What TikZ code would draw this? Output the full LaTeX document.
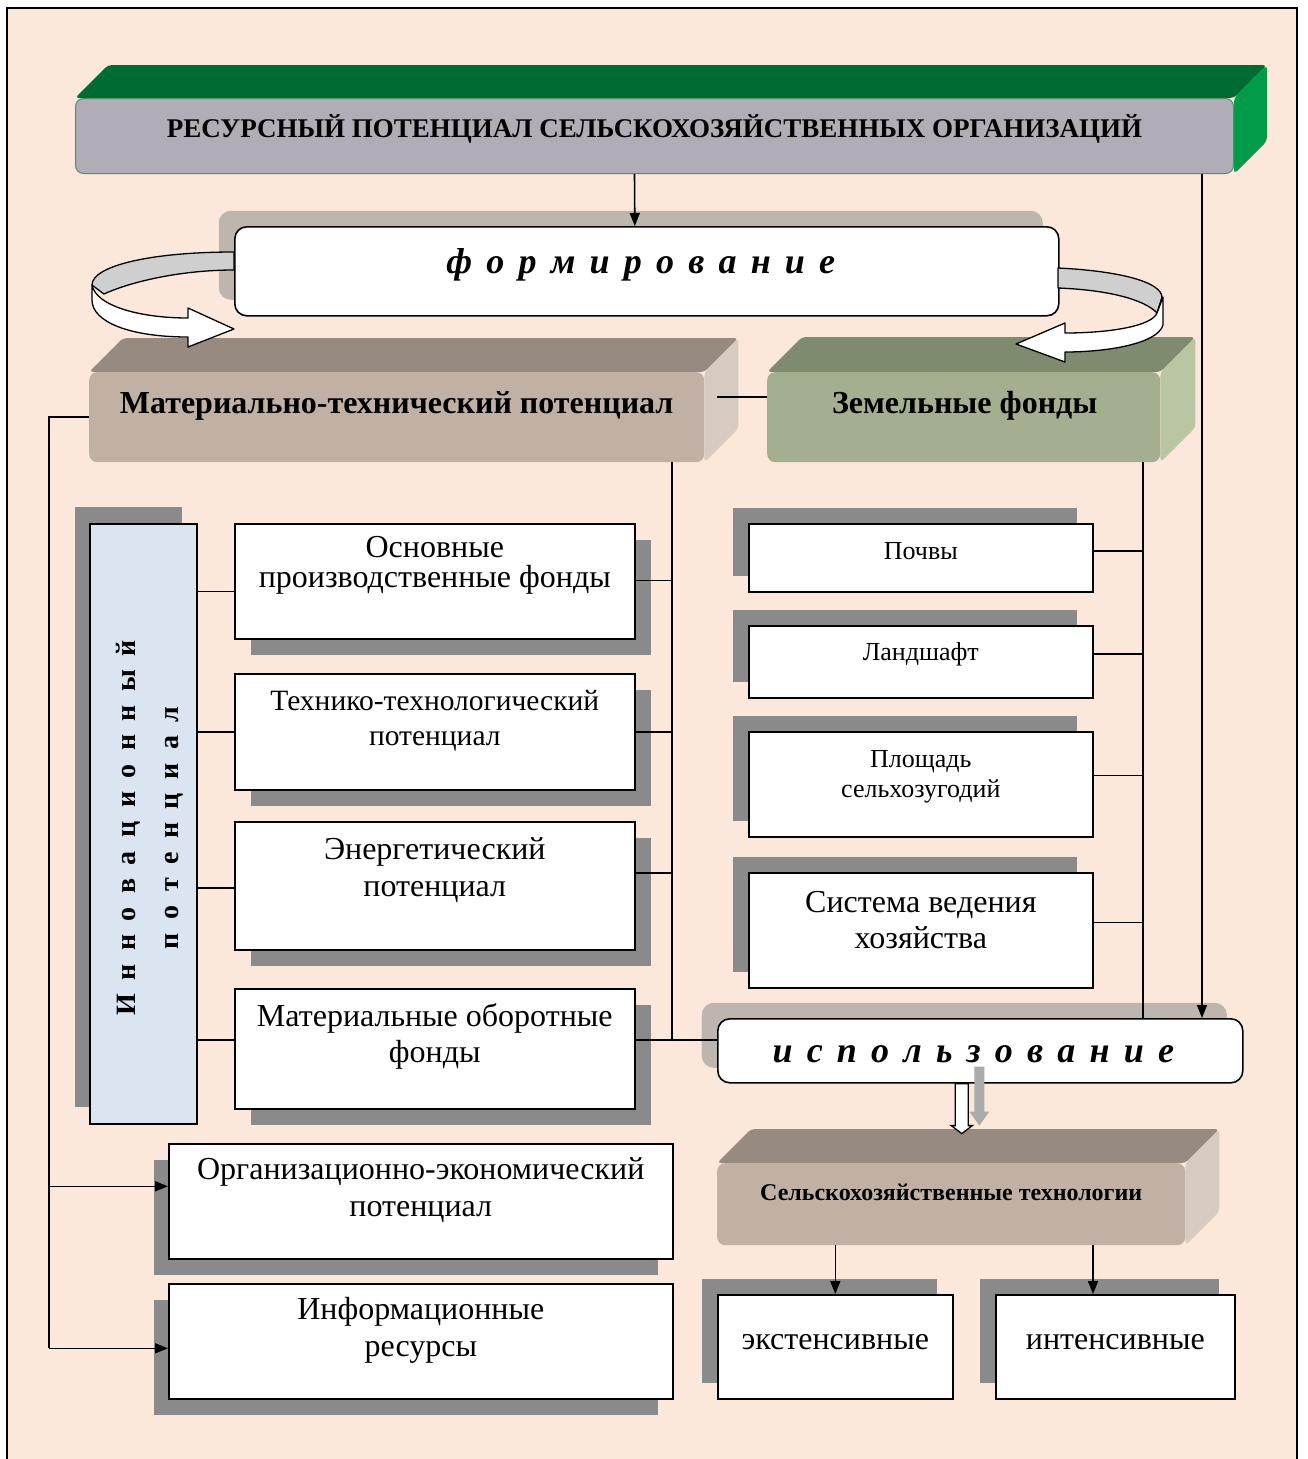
\documentclass[tikz,border=0pt]{standalone}
\usepackage{fontspec}
\setmainfont{Liberation Serif}
\usetikzlibrary{arrows.meta,shadows}

\definecolor{peach}{HTML}{FCE8DA}
\definecolor{bannerfront}{HTML}{B1ADB7}
\definecolor{bannertop}{HTML}{006B33}
\definecolor{bannerside}{HTML}{019B4A}
\definecolor{bannerline}{HTML}{4A9465}
\definecolor{mtfront}{HTML}{C1B1A5}
\definecolor{mttop}{HTML}{978A80}
\definecolor{mtside}{HTML}{D6CAC1}
\definecolor{zffront}{HTML}{A3AF8F}
\definecolor{zftop}{HTML}{7F8B6F}
\definecolor{zfside}{HTML}{BAC5A3}
\definecolor{innovblue}{HTML}{DBE5F1}
\definecolor{shadedark}{HTML}{8A8A8A}
\definecolor{shadelight}{HTML}{BDB5AE}
\definecolor{ribbon}{HTML}{CFCFCF}
\definecolor{ghostarrow}{HTML}{ABABAB}

\pgfdeclarelayer{backdrop}
\pgfdeclarelayer{faces}
\pgfsetlayers{backdrop,faces,main}

% letter-spaced words
\newlength\lgap
\newcommand\ltrsp{\hspace{\lgap}}

% top-aligned text block of a framed box: width, height, font size, line skip, first baseline, text
\newcommand\bx[6]{\parbox[c][#2pt][t]{#1pt}{\centering\fontsize{#3pt}{#4pt}\selectfont\rule{0pt}{#5pt}#6\par}}

% top and right faces of a raised slab: node, depth, top colour, side colour
\newcommand\slab[4]{%
  \begin{pgfonlayer}{faces}
    \fill[#3, rounded corners=4pt] (#1.north west) -- ++(#2,-#2)
      -- ([shift={(#2,-#2)}]#1.north east) -- (#1.north east) -- cycle;
    \fill[#4, rounded corners=4pt] (#1.north east) -- ([shift={(#2,-#2)}]#1.north east)
      -- ([shift={(#2,-#2)}]#1.south east) -- (#1.south east) -- cycle;
  \end{pgfonlayer}}

\begin{document}
\begin{tikzpicture}[x=1pt,y=-1pt,
  conn/.style={line width=1.6pt},
  arr/.style={line width=1.6pt,-{Triangle[length=13pt,width=10pt]}},
  wbox/.style={draw, fill=white, line width=1.6pt, inner sep=0pt, anchor=north west},
  shbr/.style={general shadow={fill=shadedark, shadow xshift=16pt, shadow yshift=-16pt}},
  shtl/.style={general shadow={fill=shadedark, shadow xshift=-16pt, shadow yshift=16pt}},
  shbl/.style={general shadow={fill=shadedark, shadow xshift=-15pt, shadow yshift=-16pt}},
  pill/.style={draw, fill=white, line width=1.6pt, rounded corners=12pt, inner sep=0pt,
    anchor=north west, general shadow={fill=shadelight, shadow xshift=-16pt, shadow yshift=16pt}},
  front/.style={inner sep=0pt, anchor=north west, rounded corners=8pt},
  ribbonline/.style={draw=black, line width=1.3pt, line join=round},
]
\useasboundingbox (0,0) rectangle (1307,1459);

\begin{pgfonlayer}{backdrop}
  \fill[peach] (7,8) rectangle (1297,1459);
  \draw[line width=2.5pt] (7,1462) -- (7,8) -- (1297,8) -- (1297,1462);
\end{pgfonlayer}

% ---------- title slab ----------
\node[front, fill=bannerfront, draw=bannerline, line width=1pt,
      minimum width=1158pt, minimum height=75pt] (res) at (75,98) {};
\slab{res}{33}{bannertop}{bannerside}
\node[font=\bfseries\fontsize{27}{30}\selectfont] (resT) at ([shift={(0,-7)}]res.center)
  {РЕСУРСНЫЙ ПОТЕНЦИАЛ СЕЛЬСКОХОЗЯЙСТВЕННЫХ ОРГАНИЗАЦИЙ};

% ---------- formation ----------
\node[pill, minimum width=824pt, minimum height=89pt] (form) at (234,226) {};
\node[font=\bfseries\itshape\fontsize{36}{40}\selectfont\setlength\lgap{14.2pt}] (formT)
  at ([shift={(-6,-6)}]form.center)
  {ф\ltrsp о\ltrsp р\ltrsp м\ltrsp и\ltrsp р\ltrsp о\ltrsp в\ltrsp а\ltrsp н\ltrsp и\ltrsp е};

% ---------- two main slabs ----------
\node[front, fill=mtfront, minimum width=615pt, minimum height=90pt] (mt) at (89,372) {};
\slab{mt}{34}{mttop}{mtside}
\node[font=\bfseries\fontsize{32}{36}\selectfont] (mtT) at ([shift={(0,-11)}]mt.center)
  {Материально-технический потенциал};

\node[front, fill=zffront, minimum width=393pt, minimum height=90pt] (zf) at (767,372) {};
\slab{zf}{35}{zftop}{zfside}
\node[font=\bfseries\fontsize{32}{36}\selectfont] (zfT) at ([shift={(1,-11)}]zf.center)
  {Земельные фонды};

% ---------- innovation column ----------
\node[wbox, fill=innovblue, minimum width=107pt, minimum height=600pt,
      general shadow={fill=shadedark, shadow xshift=-15pt, shadow yshift=17pt}] (innov) at (89,523) {};
\node[rotate=90, align=center, font=\bfseries\fontsize{28}{43}\selectfont\setlength\lgap{13.5pt}]
  (innovT) at ([shift={(6,4)}]innov.center)
  {И\ltrsp н\ltrsp н\ltrsp о\ltrsp в\ltrsp а\ltrsp ц\ltrsp и\ltrsp о\ltrsp н\ltrsp н\ltrsp ы\ltrsp й\\
   п\ltrsp о\ltrsp т\ltrsp е\ltrsp н\ltrsp ц\ltrsp и\ltrsp а\ltrsp л};

% ---------- material-technical components ----------
\node[wbox, shbr] (osn) at (234,523) {\bx{400}{115}{32}{30}{34}{Основные\\производственные фонды}};
\node[wbox, shbr] (tech) at (234,673) {\bx{400}{116}{29.5}{35}{37}{Технико-технологический\\потенциал}};
\node[wbox, shbr] (en) at (234,821) {\bx{400}{128}{32}{37}{38}{Энергетический\\потенциал}};
\node[wbox, shbr] (mat) at (234,988) {\bx{400}{120}{32}{36}{38}{Материальные оборотные\\фонды}};

\node[wbox, shbl] (org) at (168,1143) {\bx{504}{115}{32}{37}{36}{Организационно-экономический\\потенциал}};
\node[wbox, shbl] (inf) at (168,1283) {\bx{504}{115}{32}{37}{36}{Информационные\\ресурсы}};

% ---------- land components ----------
\node[wbox, shtl] (pochvy) at (748,523) {\bx{344}{68}{26}{30}{36}{Почвы}};
\node[wbox, shtl] (land) at (748,625) {\bx{344}{72}{26}{30}{35}{Ландшафт}};
\node[wbox, shtl] (plosh) at (748,731) {\bx{344}{105}{26}{30}{36}{Площадь\\сельхозугодий}};
\node[wbox, shtl] (sys) at (748,872) {\bx{344}{115}{32}{36}{40}{Система ведения\\хозяйства}};

% ---------- use ----------
\node[pill, minimum width=525pt, minimum height=64pt,
      general shadow={fill=shadelight, shadow xshift=-16pt, shadow yshift=15pt}] (isp) at (717,1018) {};
\node[font=\bfseries\itshape\fontsize{36}{40}\selectfont\setlength\lgap{14.2pt}] (ispT)
  at ([shift={(-7,3)}]isp.center)
  {и\ltrsp с\ltrsp п\ltrsp о\ltrsp л\ltrsp ь\ltrsp з\ltrsp о\ltrsp в\ltrsp а\ltrsp н\ltrsp и\ltrsp е};

% ---------- technologies ----------
\node[front, fill=mtfront, minimum width=468pt, minimum height=82pt] (sx) at (717,1163) {};
\slab{sx}{34}{mttop}{mtside}
\node[font=\bfseries\fontsize{24}{28}\selectfont] (sxT) at ([shift={(0,-12)}]sx.center)
  {Сельскохозяйственные технологии};

\node[wbox, shtl] (ext) at (717,1294) {\bx{235}{104}{32}{36}{55}{экстенсивные}};
\node[wbox, shtl] (int) at (995,1294) {\bx{239}{104}{32}{36}{55}{интенсивные}};

% ---------- ribbon arrows around the formation box ----------
\path[ribbonline, fill=ribbon] (234,252) .. controls (150,252) and (92,266) .. (92,285)
  -- (104,294) .. controls (130,282) and (180,270) .. (234,270) -- cycle;
\path[ribbonline, fill=white] (92,285) .. controls (96,306) and (140,318) .. (188,318)
  -- (188,308) -- (234,329) -- (188,347) -- (188,337)
  .. controls (130,337) and (92,322) .. (92,300) -- cycle;

\path[ribbonline, fill=ribbon] (1058,268) .. controls (1120,271) and (1161,282) .. (1162,297)
  -- (1157,313) .. controls (1145,300) and (1110,290) .. (1058,288) -- cycle;
\path[ribbonline, fill=white] (1163,297) -- (1163,325) .. controls (1158,343) and (1110,352) .. (1065,352)
  -- (1065,362) -- (1016,344) -- (1065,323) -- (1065,333)
  .. controls (1110,333) and (1152,326) .. (1157,313) -- cycle;

% ---------- connectors ----------
\coordinate (rx) at (1202,0);
\coordinate (lx) at (49,0);
\coordinate (mx) at (672,0);
\coordinate (zx) at (1143,0);
\coordinate (ix) at (1093,0);

\draw[arr] ([shift={(-20,0)}]res.south) -- ([shift={(-12,0)}]form.north);
\draw[arr] (res.south -| rx) -- (isp.north -| rx);

\draw[conn] ([shift={(13,-20)}]mt.east) -- ([shift={(0,-20)}]zf.west);

% organisational branch on the left
\coordinate (orgIn) at ([shift={(0,-15)}]org.west);
\coordinate (infIn) at ([shift={(0,7)}]inf.west);
\draw[conn] (mt.west) -- (mt.west -| lx) -- (infIn -| lx);
\draw[arr] (orgIn -| lx) -- (orgIn);
\draw[arr] (infIn -| lx) -- (infIn);

% material-technical spine
\coordinate (osnR) at ([shift={(0,-1)}]osn.east);
\coordinate (techR) at (tech.east);
\coordinate (enR) at ([shift={(0,-13)}]en.east);
\coordinate (matR) at ([shift={(0,-9)}]mat.east);
\draw[conn] (mt.south -| mx) -- (matR -| mx);
\draw[conn] (osnR) -- (osnR -| mx);
\draw[conn] (techR) -- (techR -| mx);
\draw[conn] (enR) -- (enR -| mx);
\draw[conn] (matR) -- (matR -| isp.west);

% innovation links
\coordinate (osnL) at ([shift={(0,10)}]osn.west);
\coordinate (techL) at (tech.west);
\coordinate (enL) at ([shift={(0,2)}]en.west);
\coordinate (matL) at ([shift={(0,-9)}]mat.west);
\draw[conn] (osnL -| innov.east) -- (osnL);
\draw[conn] (techL -| innov.east) -- (techL);
\draw[conn] (enL -| innov.east) -- (enL);
\draw[conn] (matL -| innov.east) -- (matL);

% land spine
\coordinate (pochvyR) at ([shift={(0,-7)}]pochvy.east);
\coordinate (landR) at ([shift={(0,-8)}]land.east);
\coordinate (ploshR) at ([shift={(0,-9)}]plosh.east);
\coordinate (sysR) at ([shift={(0,-8)}]sys.east);
\draw[conn] (zf.south -| zx) -- (isp.north -| zx);
\draw[conn] (pochvyR) -- (pochvyR -| zx);
\draw[conn] (landR) -- (landR -| zx);
\draw[conn] (ploshR) -- (ploshR -| zx);
\draw[conn] (sysR) -- (sysR -| zx);

% use -> technologies (hollow arrow and its grey echo)
\path[draw=black, fill=white, line width=1.3pt, line join=miter]
  ([shift={(-25,0)}]isp.south) -- ++(0,42) -- ++(-4,0) -- ++(10.5,8) -- ++(10.5,-8) -- ++(-4,0) -- ++(0,-42) -- cycle;
\fill[ghostarrow] ([shift={(-6,-17)}]isp.south) -- ++(0,45) -- ++(-5,0) -- ++(10,14) -- ++(10,-14) -- ++(-5,0) -- ++(0,-45) -- cycle;

% technologies -> kinds
\draw[arr] (sx.south -| ext.north) -- (ext.north);
\draw[arr] (sx.south -| ix) -- (int.north -| ix);

\end{tikzpicture}
\end{document}
